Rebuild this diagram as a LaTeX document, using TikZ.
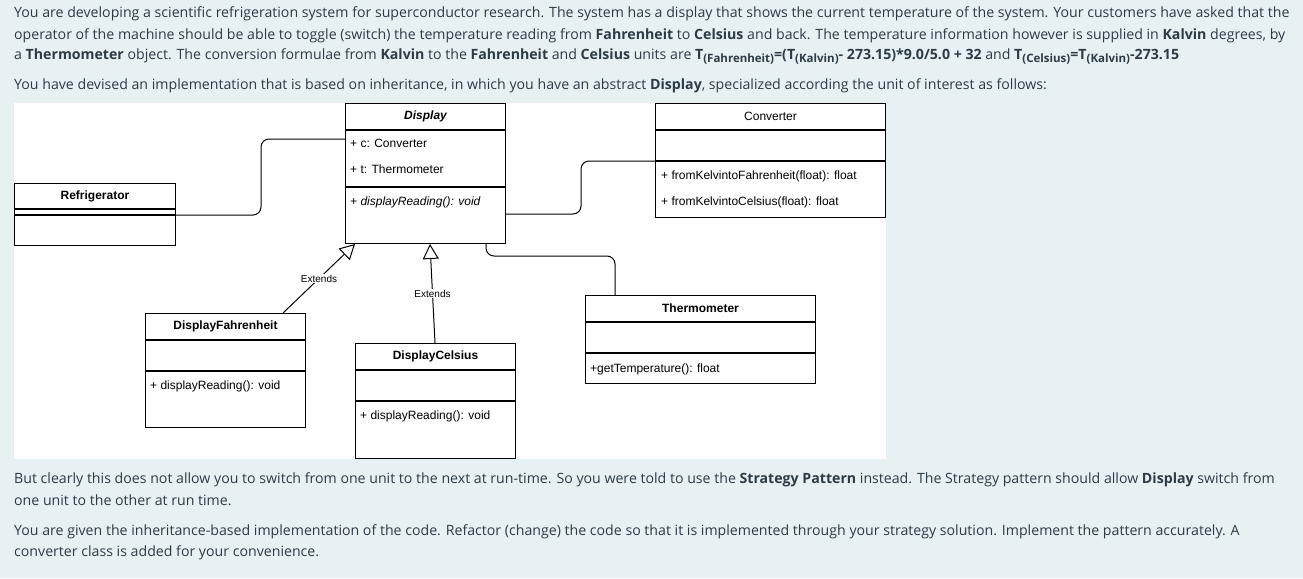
\documentclass[tikz,border=0pt]{standalone}
\usepackage{fontspec}
\setmainfont{Open Sans}
\newfontfamily\umlfont{Liberation Sans}
\usetikzlibrary{arrows.meta,calc}
\definecolor{pagebg}{HTML}{E7F1F4}
\definecolor{bodytext}{HTML}{2D3B45}
\newcommand{\tsub}[1]{\raisebox{-0.35ex}{\fontsize{11.5}{12}\selectfont #1}}

\tikzset{
  body/.style={anchor=west,inner sep=0pt,text=bodytext,font=\fontsize{14.15}{16}\selectfont},
  box/.style={draw=black,line width=1pt,fill=white,anchor=north west,inner sep=0pt,
              minimum width=#1,font=\umlfont\fontsize{12}{14}\selectfont\bfseries},
  member/.style={anchor=west,inner sep=0pt,font=\umlfont\fontsize{12}{14}\selectfont},
  assoc/.style={line width=1pt,rounded corners=8pt},
  extends/.style={line width=1pt,-{Triangle[open,length=15pt,width=16pt]}},
  extlabel/.style={fill=white,inner sep=1pt,font=\umlfont\fontsize{10}{12}\selectfont}
}

\begin{document}
\begin{tikzpicture}[x=1pt,y=-1pt]
  \useasboundingbox (0,0) rectangle (1303,578);
  \fill[pagebg] (0,0) rectangle (1303,578);
  \fill[white] (14,103) rectangle (886,459);

  % text above
  \node[body] (intro1) at (14,13.5) {You are developing a scientific refrigeration system for superconductor research. The system has a display that shows the current temperature of the system. Your customers have asked that the};
  \node[body] (intro2) at (14,36) {operator of the machine should be able to toggle (switch) the temperature reading from \textbf{Fahrenheit} to \textbf{Celsius} and back. The temperature information however is supplied in \textbf{Kalvin} degrees, by};
  \node[body] (intro3) at (14,56.5) {a \textbf{Thermometer} object. The conversion formulae from \textbf{Kalvin} to the \textbf{Fahrenheit} and \textbf{Celsius} units are \textbf{T\tsub{(Fahrenheit)}=(T\tsub{(Kalvin)}- 273.15)*9.0/5.0 + 32} and \textbf{T\tsub{(Celsius)}=T\tsub{(Kalvin)}-273.15}};
  \node[body] (intro4) at (14,85.5) {You have devised an implementation that is based on inheritance, in which you have an abstract \textbf{Display}, specialized according the unit of interest as follows:};

  % Display
  \node[box=160,minimum height=26,font=\umlfont\fontsize{12}{14}\selectfont\bfseries\itshape] (disp) at (345,103) {Display};
  \node[box=160,minimum height=56] (dispattr) at (disp.south west) {};
  \node[box=160,minimum height=56] (dispmeth) at (dispattr.south west) {};
  \node[member] (dispc) at (350,143.5) {+ c: Converter};
  \node[member] (dispt) at (350,169.5) {+ t: Thermometer};
  \node[member,font=\umlfont\fontsize{12}{14}\selectfont\itshape] (dispread) at (350,202.5) {+ displayReading(): void};

  % Refrigerator
  \node[box=161,minimum height=25] (refr) at (14,183) {Refrigerator};
  \node[box=161,minimum height=5] (refrattr) at (refr.south west) {};
  \node[box=161,minimum height=30] (refrmeth) at (refrattr.south west) {};

  % Converter
  \node[box=230,minimum height=26,font=\umlfont\fontsize{12}{14}\selectfont] (conv) at (655,103) {Converter};
  \node[box=230,minimum height=30] (convattr) at (conv.south west) {};
  \node[box=230,minimum height=56] (convmeth) at (convattr.south west) {};
  \node[member] (convf) at (661,176.5) {+ fromKelvintoFahrenheit(float): float};
  \node[member] (convc) at (661,202.5) {+ fromKelvintoCelsius(float): float};

  % Thermometer
  \node[box=230,minimum height=26] (thermo) at (585,295) {Thermometer};
  \node[box=230,minimum height=30] (thermoattr) at (thermo.south west) {};
  \node[box=230,minimum height=30] (thermometh) at (thermoattr.south west) {};
  \node[member] (thermoget) at (590,369.5) {+getTemperature(): float};

  % DisplayFahrenheit
  \node[box=160,minimum height=26] (dfahr) at (145,313) {DisplayFahrenheit};
  \node[box=160,minimum height=30] (dfahrattr) at (dfahr.south west) {};
  \node[box=160,minimum height=56] (dfahrmeth) at (dfahrattr.south west) {};
  \node[member] (dfahrread) at (150,386.5) {+ displayReading(): void};

  % DisplayCelsius
  \node[box=160,minimum height=26] (dcels) at (355,343) {DisplayCelsius};
  \node[box=160,minimum height=30] (dcelsattr) at (dcels.south west) {};
  \node[box=160,minimum height=57] (dcelsmeth) at (dcelsattr.south west) {};
  \node[member] (dcelsread) at (360,416.5) {+ displayReading(): void};

  % associations
  \draw[assoc] (refrmeth.north east) -- ++(85,0) |- ($(dispattr.north west)+(0,9)$);
  \draw[assoc] ($(dispmeth.north east)+(0,27)$) -- ++(75,0) |- (convattr.south west);
  \draw[assoc] ($(dispmeth.south east)+(-20,0)$) -- ++(0,12) -| ($(thermo.north west)+(30,0)$);

  % inheritance
  \draw[extends] ($(dfahr.north east)+(-23,0)$) -- node[extlabel] (extf) {Extends} ($(dispmeth.south west)+(10,0)$);
  \draw[extends] ($(dcels.north west)+(80,0)$) -- node[extlabel] (extc) {Extends} ($(dispmeth.south west)+(85,0)$);

  % text below
  \node[body] (outro1) at (14,479.5) {But clearly this does not allow you to switch from one unit to the next at run-time. So you were told to use the \textbf{Strategy Pattern} instead. The Strategy pattern should allow \textbf{Display} switch from};
  \node[body] (outro2) at (14,500.5) {one unit to the other at run time.};
  \node[body] (outro3) at (14,531.5) {You are given the inheritance-based implementation of the code. Refactor (change) the code so that it is implemented through your strategy solution. Implement the pattern accurately. A};
  \node[body] (outro4) at (14,552.5) {converter class is added for your convenience.};
\end{tikzpicture}
\end{document}
